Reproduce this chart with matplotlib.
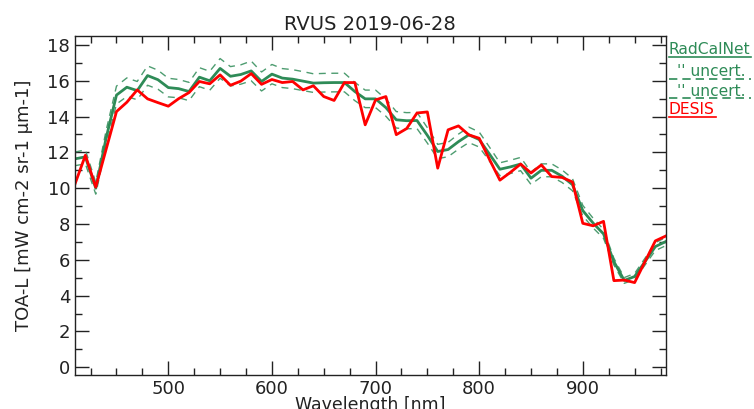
import matplotlib
matplotlib.use("Agg")
import matplotlib.pyplot as plt
from matplotlib.lines import Line2D
from matplotlib.ticker import MultipleLocator

# wavelength grid [nm]
wl = list(range(410, 990, 10))

# RadCalNet TOA radiance and its uncertainty
rcn = [11.64, 11.75, 10.00, 12.80, 15.20, 15.64, 15.45, 16.29, 16.06, 15.62,
       15.56, 15.40, 16.20, 16.00, 16.69, 16.25, 16.35, 16.55, 15.96, 16.37,
       16.15, 16.09, 15.98, 15.87, 15.89, 15.90, 15.90, 15.40, 14.99, 14.99,
       14.50, 13.82, 13.77, 13.78, 12.95, 12.05, 12.16, 12.60, 12.98, 12.72,
       11.90, 11.06, 11.19, 11.35, 10.56, 11.00, 11.00, 10.67, 10.20, 8.75,
       8.05, 7.45, 5.90, 4.85, 5.07, 5.90, 6.74, 7.02]
unc = [0.38, 0.39, 0.33, 0.42, 0.50, 0.52, 0.51, 0.54, 0.53, 0.52,
       0.51, 0.51, 0.53, 0.53, 0.55, 0.54, 0.54, 0.55, 0.53, 0.54,
       0.53, 0.53, 0.53, 0.52, 0.52, 0.52, 0.52, 0.51, 0.49, 0.49,
       0.48, 0.46, 0.45, 0.45, 0.43, 0.40, 0.40, 0.42, 0.43, 0.42,
       0.39, 0.36, 0.37, 0.37, 0.35, 0.36, 0.36, 0.35, 0.34, 0.29,
       0.27, 0.25, 0.19, 0.16, 0.17, 0.19, 0.22, 0.23]

# DESIS TOA radiance
desis = [10.24, 11.84, 10.06, 12.17, 14.28, 14.80, 15.49, 14.99, 14.78, 14.58,
         15.00, 15.34, 15.96, 15.83, 16.33, 15.75, 15.98, 16.40, 15.80, 16.07,
         15.90, 15.96, 15.49, 15.72, 15.12, 14.90, 15.90, 15.90, 13.54, 14.93,
         15.12, 12.99, 13.33, 14.20, 14.26, 11.12, 13.26, 13.48, 12.98, 12.79,
         11.60, 10.45, 10.88, 11.35, 10.85, 11.30, 10.65, 10.60, 10.35, 8.04,
         7.90, 8.15, 4.84, 4.87, 4.73, 5.90, 7.06, 7.33]

green = "#2e8b57"
dark = "#222222"

plt.rcParams['font.family'] = ['DejaVu Sans']
fig = plt.figure(figsize=(7.54, 4.09), dpi=100)
ax = fig.add_axes([0.0995, 0.0831, 0.7834, 0.8289])

up = [r + u for r, u in zip(rcn, unc)]
lo = [r - u for r, u in zip(rcn, unc)]
ax.plot(wl, up, color=green, lw=1.0, ls=(0, (5, 4)), alpha=0.85)
ax.plot(wl, lo, color=green, lw=1.0, ls=(0, (5, 4)), alpha=0.85)
ax.plot(wl, rcn, color=green, lw=2.0)
ax.plot(wl, desis, color="red", lw=2.0)

ax.set_xlim(410, 980)
ax.set_ylim(-0.43, 18.5)
ax.xaxis.set_major_locator(MultipleLocator(100))
ax.xaxis.set_minor_locator(MultipleLocator(25))
ax.yaxis.set_major_locator(MultipleLocator(2))
ax.yaxis.set_minor_locator(MultipleLocator(1))
ax.tick_params(which='both', direction='in', top=True, right=True,
               colors=dark, labelsize=13, width=1)
ax.tick_params(which='major', length=10)
ax.tick_params(which='minor', length=5)
for s in ax.spines.values():
    s.set_color(dark)
    s.set_linewidth(1)

ax.set_title("RVUS 2019-06-28", fontsize=14, color=dark, pad=4)
ax.set_xlabel("Wavelength [nm]", fontsize=12.5, color=dark, labelpad=-1)
ax.set_ylabel("TOA-L [mW cm-2 sr-1 \u03bcm-1]", fontsize=13, color=dark, labelpad=10)

# IDL-style legend on the right, text with underline
W, H = 754.0, 409.0
items = [("RadCalNet", green, '-', 669, 50, 751),
         ("'' uncert.", green, '--', 677, 71.7, 751),
         ("'' uncert.", green, '--', 677, 91, 751),
         ("DESIS", "red", '-', 669, 110, 716)]
for txt, col, ls, x0, yc, x1 in items:
    fig.text(x0 / W, 1 - yc / H, txt, color=col, fontsize=11.2,
             ha='left', va='center')
    fig.add_artist(Line2D([669 / W, x1 / W], [1 - (yc + 7.3) / H] * 2,
                          color=col, lw=1.2,
                          ls='-' if ls == '-' else (0, (5, 3)),
                          transform=fig.transFigure))

fig.savefig("out.png", dpi=100)
